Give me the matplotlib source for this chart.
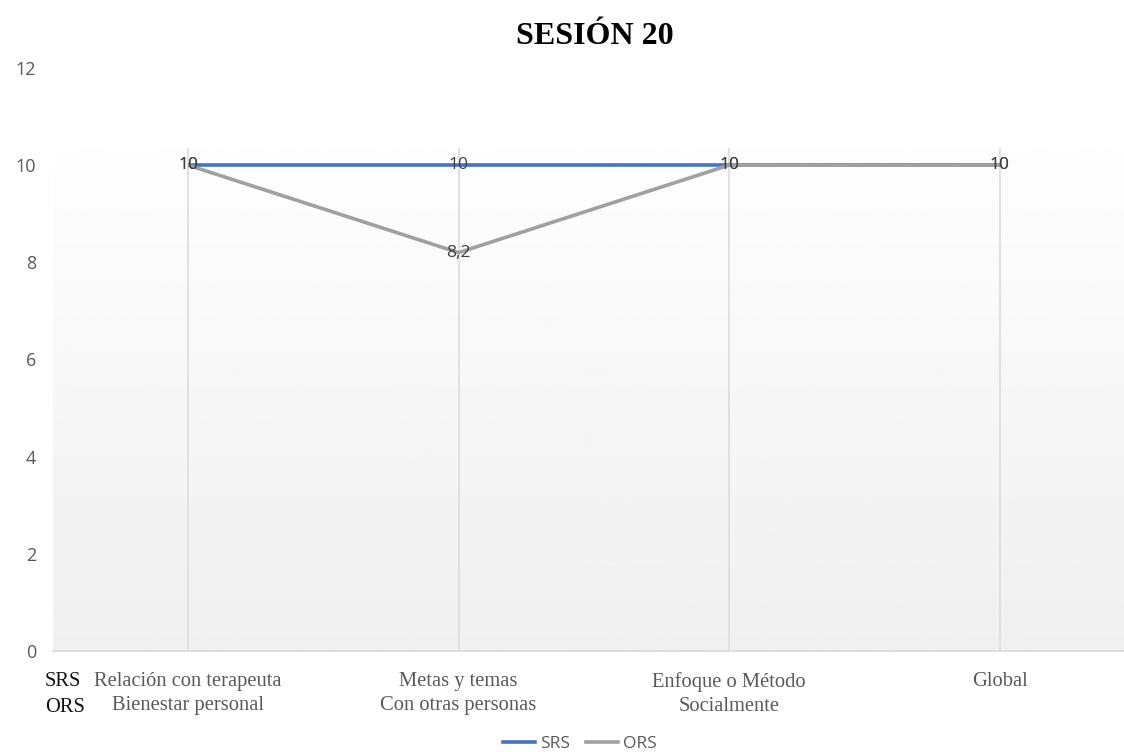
import numpy as np
import matplotlib.pyplot as plt
from matplotlib.lines import Line2D

categories = ["Relación con terapeuta\nBienestar personal",
              "Metas y temas\nCon otras personas",
              "Enfoque o Método\nSocialmente",
              "Global"]
srs = [10, 10, 10, 10]
ors = [10, 8.2, 10, 10]
y_ticks = [0, 2, 4, 6, 8, 10, 12]

SRS_COLOR = "#4472C4"
ORS_COLOR = "#A0A0A0"
TEXT_GRAY = "#595959"

fig = plt.figure(figsize=(11.24, 7.52), dpi=100)
ax = fig.add_axes([0.047, 0.1343, 0.953, 0.7753])

x = np.arange(len(categories))
ax.set_xlim(-0.5, 3.46)
ax.set_ylim(0, 12)

# soft vertical fill behind the plot
grad = np.linspace(0.94, 0.995, 256).reshape(-1, 1)
ax.imshow(grad, cmap="gray", vmin=0, vmax=1, origin="lower", aspect="auto",
          extent=(-0.5, 3.46, 0, 10.35), zorder=0)

ax.vlines(x, 0, 10.35, color="#dcdcdc", lw=1.2, zorder=1)

ax.plot(x, srs, color=SRS_COLOR, lw=2.6, zorder=3, solid_capstyle="butt")
ax.plot(x, ors, color=ORS_COLOR, lw=2.6, zorder=3, solid_capstyle="butt")

def fmt(v):
    return f"{v:g}".replace(".", ",")

for vals in (srs, ors):
    for xi, v in zip(x, vals):
        ax.text(xi, v, fmt(v), ha="center", va="center", fontsize=12.5,
                color="#404040", family="Open Sans", zorder=4)

for s in ["top", "right", "left"]:
    ax.spines[s].set_visible(False)
ax.spines["bottom"].set_color("#d9d9d9")
ax.spines["bottom"].set_linewidth(1.2)

ax.set_yticks(y_ticks)
ax.set_yticklabels([str(t) for t in y_ticks], family="Open Sans", fontsize=13,
                   color=TEXT_GRAY)
ax.tick_params(axis="y", length=0, pad=12)

ax.set_xticks(x)
ax.set_xticklabels(categories, family="Liberation Serif", fontsize=14.8,
                   color=TEXT_GRAY, linespacing=1.4)
ax.tick_params(axis="x", length=0, pad=15)

# series names in front of the first category
fig.text(45 / 1124, 1 - 682 / 752, "SRS", family="Liberation Serif",
         fontsize=14.8, color="#111111", ha="left", va="center")
fig.text(45 / 1124, 1 - 707 / 752, "ORS", family="Liberation Serif",
         fontsize=14.8, color="#111111", ha="left", va="center")

fig.text(595 / 1124, 1 - 37 / 752, "SESIÓN 20", family="Liberation Serif",
         fontweight="bold", fontsize=23, color="black", ha="center", va="center")

handles = [Line2D([], [], color=SRS_COLOR, lw=2.6),
           Line2D([], [], color=ORS_COLOR, lw=2.6)]
leg = fig.legend(handles, ["SRS", "ORS"], loc="center",
                 bbox_to_anchor=(580 / 1124, 1 - 744 / 752), ncol=2,
                 frameon=False, handlelength=1.85, handletextpad=0.3,
                 columnspacing=0.9, borderpad=0.1,
                 prop={"family": "Open Sans", "size": 12.5})
for t in leg.get_texts():
    t.set_color(TEXT_GRAY)

fig.savefig("out.png", dpi=100, facecolor="white")
